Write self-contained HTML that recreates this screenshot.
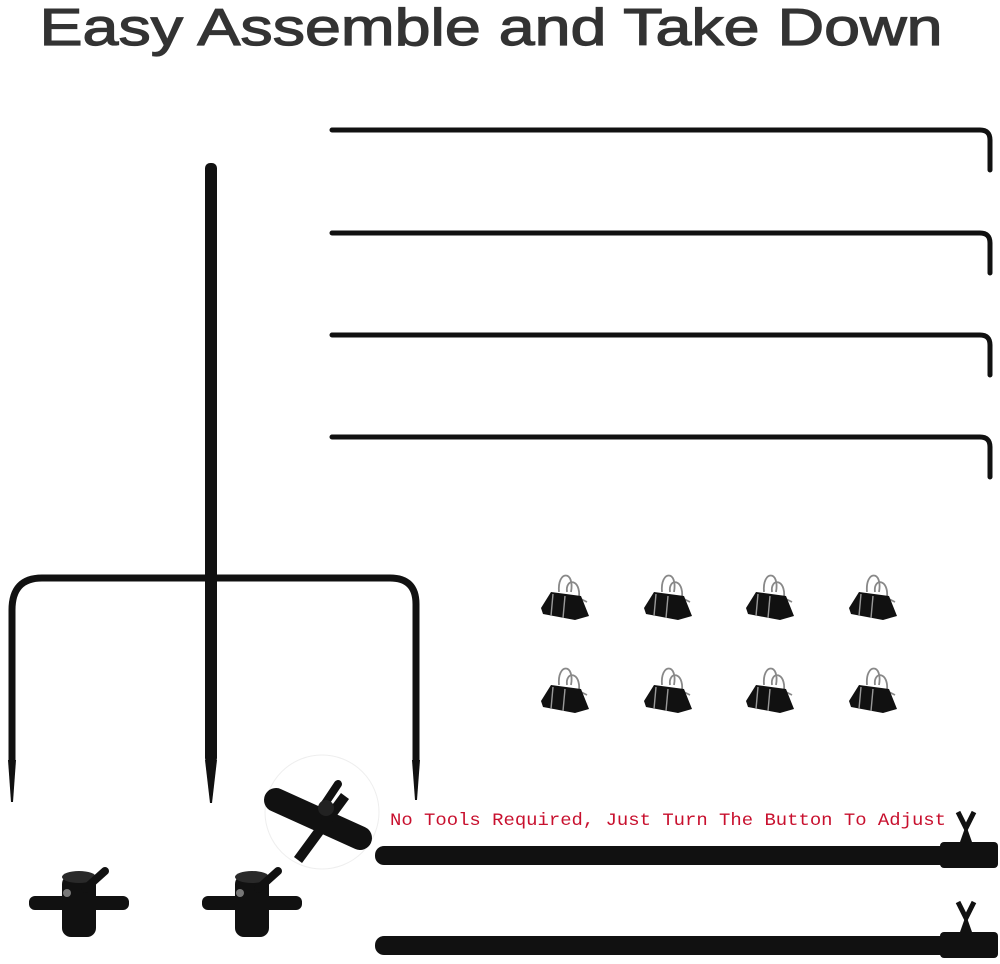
<!DOCTYPE html>
<html><head><meta charset="utf-8"><style>
html,body{margin:0;padding:0;background:#fff;}
svg{display:block}
</style></head><body>
<svg width="1000" height="964" viewBox="0 0 1000 964" xmlns="http://www.w3.org/2000/svg">
<defs>
<g id="clip">
 <path d="M-6,-12 C-8,-34 10,-34 6,-12 M2,-12 C0,-26 16,-26 14,-6 M14,-6 L22,-2" fill="none" stroke="#888" stroke-width="1.8"/>
 <path d="M-24,4 L-14,-12 L16,-8 L24,12 L10,16 L-22,10 Z" fill="#111"/>
 <path d="M-12,-10 L-14,12 M0,-8 L-2,14" stroke="#999" stroke-width="1.4"/>
</g>
<g id="tee">
 <rect x="-50" y="-7" width="100" height="14" rx="6" fill="#111"/>
 <rect x="-17" y="-28" width="34" height="62" rx="9" fill="#111"/>
 <ellipse cx="0" cy="-26" rx="17" ry="6" fill="#2a2a2a"/>
 <path d="M6,-14 L26,-32" stroke="#111" stroke-width="8" stroke-linecap="round"/>
 <circle cx="-12" cy="-10" r="4" fill="#777"/>
</g>
</defs>
<text x="491" y="45" font-family="Liberation Sans, Arial, sans-serif" font-size="52" fill="#333" stroke="#333" stroke-width="1.2" text-anchor="middle" textLength="903" lengthAdjust="spacingAndGlyphs">Easy Assemble and Take Down</text>

<g fill="none" stroke="#111" stroke-width="5" stroke-linecap="round">
 <path d="M332,130 L980,130 Q990,130 990,140 L990,170"/>
 <path d="M332,233 L980,233 Q990,233 990,243 L990,273"/>
 <path d="M332,335 L980,335 Q990,335 990,345 L990,375"/>
 <path d="M332,437 L980,437 Q990,437 990,447 L990,477"/>
 <path d="M12,760 L12,610 Q12,578 42,578 L390,578 Q416,578 416,604 L416,760" stroke-width="7" stroke-linecap="butt"/>
</g>
<polygon points="8,760 16,760 13,802 11,802" fill="#111"/>
<polygon points="412,760 420,760 417,800 415,800" fill="#111"/>
<rect x="205" y="163" width="12" height="600" rx="5" fill="#111"/>
<polygon points="205,760 217,760 212,803 210,803" fill="#111"/>

<use href="#clip" x="565" y="604"/><use href="#clip" x="668" y="604"/><use href="#clip" x="770" y="604"/><use href="#clip" x="873" y="604"/>
<use href="#clip" x="565" y="697"/><use href="#clip" x="668" y="697"/><use href="#clip" x="770" y="697"/><use href="#clip" x="873" y="697"/>

<use href="#tee" x="79" y="903"/>
<use href="#tee" x="252" y="903"/>

<circle cx="322" cy="812" r="57" fill="#fff" stroke="#eee"/>
<path d="M276,800 L360,838" stroke="#111" stroke-width="24" stroke-linecap="round"/>
<path d="M345,796 L298,860" stroke="#111" stroke-width="10"/>
<path d="M322,808 L338,784" stroke="#111" stroke-width="8" stroke-linecap="round"/>
<circle cx="326" cy="808" r="8" fill="#222"/>

<text x="390" y="825" font-family="Liberation Mono, monospace" font-size="17.5" fill="#c8102e" textLength="556" lengthAdjust="spacingAndGlyphs">No Tools Required, Just Turn The Button To Adjust</text>

<rect x="375" y="846" width="580" height="19" rx="9" fill="#111"/>
<rect x="940" y="842" width="58" height="26" rx="4" fill="#111"/>
<path d="M960,842 L966,825 L972,842" fill="#111"/>
<path d="M958,812 L966,828 L974,812" stroke="#111" stroke-width="5" fill="none"/>
<rect x="375" y="936" width="580" height="19" rx="9" fill="#111"/>
<rect x="940" y="932" width="58" height="26" rx="4" fill="#111"/>
<path d="M960,932 L966,915 L972,932" fill="#111"/>
<path d="M958,902 L966,918 L974,902" stroke="#111" stroke-width="5" fill="none"/>
</svg>
</body></html>
